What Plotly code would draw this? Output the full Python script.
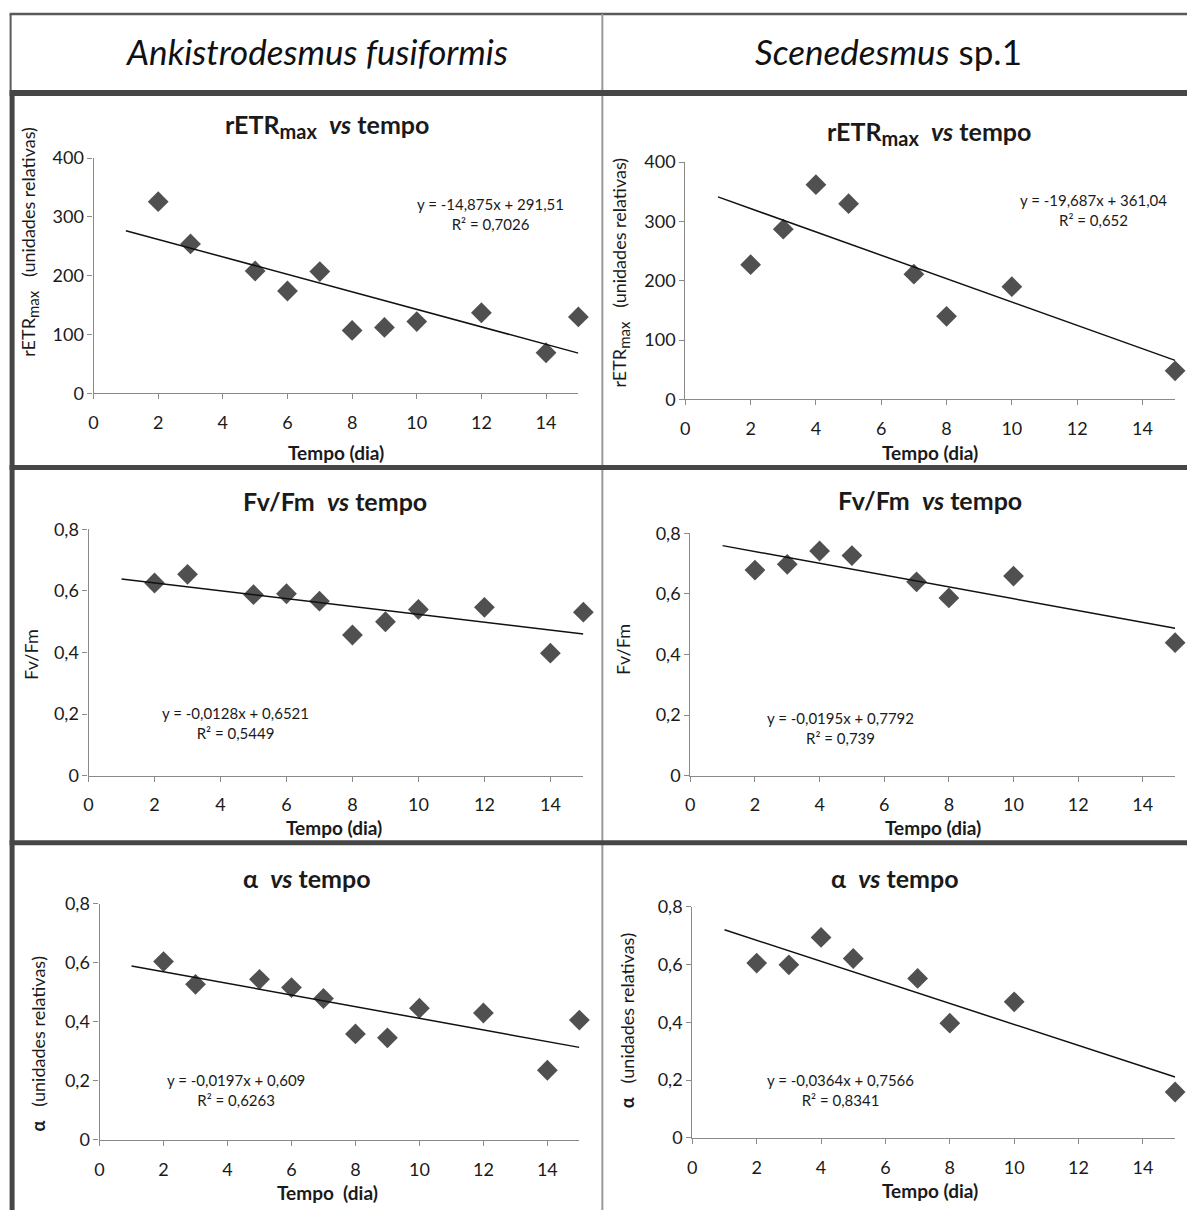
import plotly.graph_objects as go

W, H = 1187, 1210

# ---------------- data ----------------
dias_af = [2, 3, 5, 6, 7, 8, 9, 10, 12, 14, 15]
retr_af = [326, 254, 208, 174, 207, 107, 112, 122, 137, 69, 130]
fvfm_af = [0.626, 0.654, 0.588, 0.591, 0.567, 0.457, 0.500, 0.540, 0.547, 0.398, 0.531]
alfa_af = [0.604, 0.527, 0.544, 0.516, 0.479, 0.359, 0.346, 0.446, 0.430, 0.236, 0.406]

dias_sc = [2, 3, 4, 5, 7, 8, 10, 15]
retr_sc = [227, 287, 362, 330, 211, 140, 190, 48]
fvfm_sc = [0.679, 0.698, 0.742, 0.727, 0.640, 0.587, 0.659, 0.439]
alfa_sc = [0.605, 0.599, 0.694, 0.621, 0.552, 0.397, 0.471, 0.159]

# trend-line coefficients (slope, intercept) as printed on the chart
trend_slope = [-14.875, -19.687, -0.0128, -0.0195, -0.0197, -0.0364]
trend_icpt = [291.51, 361.04, 0.6521, 0.7792, 0.609, 0.7566]
trend_x = [1, 15]
eq_text = ["y = -14,875x + 291,51<br>R² = 0,7026",
           "y = -19,687x + 361,04<br>R² = 0,652",
           "y = -0,0128x + 0,6521<br>R² = 0,5449",
           "y = -0,0195x + 0,7792<br>R² = 0,739",
           "y = -0,0197x + 0,609<br>R² = 0,6263",
           "y = -0,0364x + 0,7566<br>R² = 0,8341"]

x_ticks = [0, 2, 4, 6, 8, 10, 12, 14]
x_ticktext = ["0", "2", "4", "6", "8", "10", "12", "14"]
retr_ticks = [0, 100, 200, 300, 400]
retr_ticktext = ["0", "100", "200", "300", "400"]
frac_ticks = [0, 0.2, 0.4, 0.6, 0.8]
frac_ticktext = ["0", "0,2", "0,4", "0,6", "0,8"]

SUB_T = "<sub><span style='font-size:20px'>max</span></sub>"
SUB_Y = "<sub><span style='font-size:15px'>max</span></sub>"
headers = ["<i>Ankistrodesmus fusiformis</i>", "<i>Scenedesmus</i> sp.1"]
titles = ["<b>rETR" + SUB_T + "  <i>vs</i> tempo</b>", "<b>rETR" + SUB_T + "  <i>vs</i> tempo</b>",
          "<b>Fv/Fm  <i>vs</i> tempo</b>", "<b>Fv/Fm  <i>vs</i> tempo</b>",
          "<b>α  <i>vs</i> tempo</b>", "<b>α  <i>vs</i> tempo</b>"]
xtitles = ["Tempo (dia)", "Tempo (dia)", "Tempo (dia)", "Tempo (dia)", "Tempo  (dia)", "Tempo (dia)"]
ytitles = ["rETR" + SUB_Y + "   (unidades relativas)", "rETR" + SUB_Y + "   (unidades relativas)",
           "Fv/Fm", "Fv/Fm",
           "<b>α</b>   (unidades relativas)", "<b>α</b>   (unidades relativas)"]

# ---------------- layout geometry (reference pixels) ----------------
areas = [(93, 578, 158, 393), (685, 1175, 162, 399),
         (88, 583, 529, 775), (690, 1175, 533, 775),
         (99, 579, 903, 1139), (692, 1175, 906, 1137)]
title_pos = [(327, 126), (929, 133), (335, 501), (930, 500), (307, 877), (895, 877)]
xtitle_pos = [(336, 452), (930, 452), (334, 827), (933, 827), (327, 1192), (930, 1190)]
ytitle_pos = [(29, 242), (620, 272), (30, 654), (622, 649), (37, 1043), (626, 1020)]
eq_pos = [(490, 214), (1093, 210), (235, 722), (840, 727), (235, 1089), (840, 1089)]

series = [(dias_af, retr_af), (dias_sc, retr_sc), (dias_af, fvfm_af),
          (dias_sc, fvfm_sc), (dias_af, alfa_af), (dias_sc, alfa_sc)]
yranges = [[0, 400], [0, 400], [0, 0.8], [0, 0.8], [0, 0.8], [0, 0.8]]
yticks = [(retr_ticks, retr_ticktext)] * 2 + [(frac_ticks, frac_ticktext)] * 4

# empirical correction between page pixels and the captured picture
CX_A, CX_S = 4.4, 0.9962
CY_A, CY_S = 12.0, 0.981


def px(x):
    return ((x - CX_A) / CX_S) / W


def py(y):
    return 1 - ((y - CY_A) / CY_S) / H


FONT = "Lato, 'Open Sans', sans-serif"
TXT = "#1a1a1a"
AX = "#8a8a8a"

fig = go.Figure()
annotations = []
shapes = []

for i in range(6):
    n = i + 1
    xa = "x" if n == 1 else f"x{n}"
    ya = "y" if n == 1 else f"y{n}"
    xs, ys = series[i]
    fig.add_trace(go.Scatter(
        x=xs, y=ys, mode="markers", xaxis=xa, yaxis=ya, cliponaxis=False,
        marker=dict(symbol="diamond", size=16, color="#505050",
                    line=dict(width=0)),
        showlegend=False, hoverinfo="x+y"))
    tx = trend_x
    ty = [trend_slope[i] * v + trend_icpt[i] for v in tx]
    fig.add_trace(go.Scatter(
        x=tx, y=ty, mode="lines", xaxis=xa, yaxis=ya, cliponaxis=False,
        line=dict(color="#111111", width=1.5), showlegend=False,
        hoverinfo="skip"))

    x0, x1, yt, yb = areas[i]
    xkey = "xaxis" if n == 1 else f"xaxis{n}"
    ykey = "yaxis" if n == 1 else f"yaxis{n}"
    fig.layout[xkey] = dict(
        domain=[px(x0), px(x1)], anchor=ya, range=[0, 15],
        tickvals=x_ticks, ticktext=x_ticktext, ticks="outside", ticklen=5,
        tickcolor=AX, showline=True, linecolor=AX, linewidth=1.2,
        showgrid=False, zeroline=False, fixedrange=True, ticklabelstandoff=8,
        tickfont=dict(family=FONT, size=18, color=TXT))
    fig.layout[ykey] = dict(
        domain=[py(yb), py(yt)], anchor=xa, range=yranges[i],
        tickvals=yticks[i][0], ticktext=yticks[i][1], ticks="outside",
        ticklen=5, tickcolor=AX, showline=True, linecolor=AX, linewidth=1.2,
        showgrid=False, zeroline=False, fixedrange=True,
        tickfont=dict(family=FONT, size=18, color=TXT))

    annotations.append(dict(
        text=titles[i], x=px(title_pos[i][0]), y=py(title_pos[i][1]),
        xref="paper", yref="paper", showarrow=False,
        font=dict(family=FONT, size=25, color=TXT),
        xanchor="center", yanchor="middle"))
    annotations.append(dict(
        text="<b>" + xtitles[i] + "</b>", x=px(xtitle_pos[i][0]),
        y=py(xtitle_pos[i][1]), xref="paper", yref="paper", showarrow=False,
        font=dict(family=FONT, size=19, color=TXT),
        xanchor="center", yanchor="middle"))
    annotations.append(dict(
        text=ytitles[i], x=px(ytitle_pos[i][0]), y=py(ytitle_pos[i][1]),
        xref="paper", yref="paper", showarrow=False, textangle=-90,
        font=dict(family=FONT, size=18, color=TXT),
        xanchor="center", yanchor="middle"))
    annotations.append(dict(
        text=eq_text[i], x=px(eq_pos[i][0]), y=py(eq_pos[i][1]),
        xref="paper", yref="paper", showarrow=False, align="center",
        font=dict(family=FONT, size=15, color=TXT),
        xanchor="center", yanchor="middle"))

annotations.append(dict(text=headers[0], x=px(316), y=py(51), xref="paper",
                        yref="paper", showarrow=False, xanchor="center",
                        yanchor="middle",
                        font=dict(family=FONT, size=35, color="#111111")))
annotations.append(dict(text=headers[1], x=px(888), y=py(51), xref="paper",
                        yref="paper", showarrow=False, xanchor="center",
                        yanchor="middle",
                        font=dict(family=FONT, size=35, color="#111111")))

DARK = "#464646"


def hline(y, x0, x1, w, c):
    shapes.append(dict(type="line", xref="paper", yref="paper",
                       x0=px(x0), x1=px(x1), y0=py(y), y1=py(y),
                       line=dict(color=c, width=w), layer="below"))


def vline(x, y0, y1, w, c):
    shapes.append(dict(type="line", xref="paper", yref="paper",
                       x0=px(x), x1=px(x), y0=py(y0), y1=py(y1),
                       line=dict(color=c, width=w), layer="below"))


hline(14, 9, W + 20, 2.5, "#5a5a5a")
vline(10, 14, 93, 2, "#5a5a5a")
vline(602, 14, H + 40, 2, "#9a9a9a")
hline(93, 9, W + 20, 6, DARK)
hline(467, 9, W + 20, 5, DARK)
hline(842, 9, W + 20, 5, DARK)
vline(11.5, 93, H + 40, 5, DARK)

fig.update_layout(
    width=W, height=H, margin=dict(l=0, r=0, t=0, b=0),
    paper_bgcolor="white", plot_bgcolor="white",
    annotations=annotations, shapes=shapes, showlegend=False,
    font=dict(family=FONT, color=TXT))

fig.write_html("out.html", config={"displayModeBar": False},
               post_script="document.body.style.margin='0';document.body.style.overflow='hidden';")
